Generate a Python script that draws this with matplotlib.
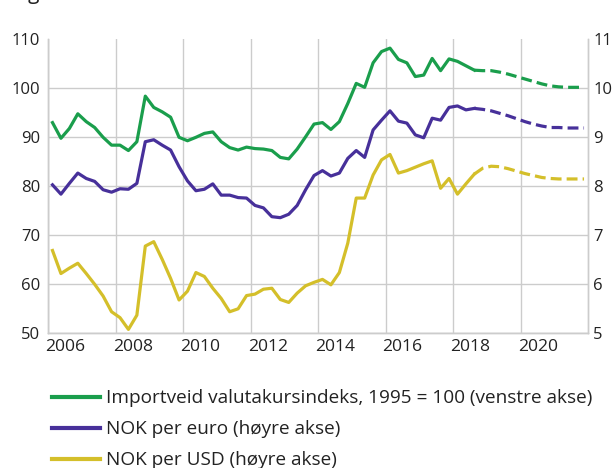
import matplotlib
matplotlib.use('Agg')
from matplotlib import pyplot as plt
from matplotlib.lines import Line2D

plt.rcParams['font.family'] = ['Open Sans', 'DejaVu Sans']
plt.rcParams['font.size'] = 12

# Quarterly data, 2006K1 - 2018K3 (history) and 2018K3 - 2021K4 (forecast)
start_year = 2006
n_hist = 51
n_fcst = 14

# Importveid valutakursindeks (left axis)
import_index = [93.0, 89.8, 91.8, 94.8, 93.2, 92.0, 90.0, 88.4, 88.4, 87.3,
                89.1, 98.4, 96.1, 95.2, 94.1, 90.0, 89.3, 90.0, 90.8, 91.1,
                89.1, 87.9, 87.4, 88.0, 87.7, 87.6, 87.3, 85.9, 85.6, 87.6,
                90.1, 92.7, 93.0, 91.6, 93.2, 96.9, 101.0, 100.2, 105.2, 107.5,
                108.2, 105.9, 105.2, 102.4, 102.7, 106.1, 103.6, 106.0, 105.5, 104.6,
                103.7]
import_index_fcst = [103.7, 103.6, 103.6, 103.3, 102.9, 102.4, 101.9, 101.4,
                     100.9, 100.5, 100.3, 100.2, 100.2, 100.2]

# NOK per euro (right axis)
nok_eur = [8.03, 7.84, 8.06, 8.27, 8.16, 8.10, 7.93, 7.88, 7.95, 7.94,
           8.06, 8.91, 8.95, 8.84, 8.74, 8.40, 8.11, 7.91, 7.94, 8.05,
           7.82, 7.82, 7.77, 7.76, 7.61, 7.56, 7.38, 7.36, 7.43, 7.61,
           7.93, 8.22, 8.32, 8.21, 8.27, 8.57, 8.73, 8.59, 9.15, 9.35,
           9.54, 9.33, 9.29, 9.05, 8.99, 9.39, 9.35, 9.61, 9.64, 9.56,
           9.59]
nok_eur_fcst = [9.59, 9.57, 9.54, 9.49, 9.44, 9.38, 9.32, 9.27,
                9.23, 9.20, 9.20, 9.19, 9.19, 9.19]

# NOK per USD (right axis)
nok_usd = [6.69, 6.22, 6.33, 6.43, 6.22, 6.00, 5.76, 5.44, 5.32, 5.08,
           5.37, 6.78, 6.87, 6.51, 6.12, 5.68, 5.86, 6.24, 6.16, 5.92,
           5.71, 5.44, 5.50, 5.77, 5.80, 5.90, 5.92, 5.69, 5.63, 5.82,
           5.97, 6.04, 6.10, 5.99, 6.24, 6.84, 7.76, 7.76, 8.23, 8.54,
           8.65, 8.27, 8.32, 8.39, 8.46, 8.52, 7.96, 8.16, 7.84, 8.05,
           8.25]
nok_usd_fcst = [8.25, 8.37, 8.41, 8.40, 8.36, 8.31, 8.26, 8.22,
                8.18, 8.16, 8.15, 8.15, 8.15, 8.15]

labels = ['Importveid valutakursindeks, 1995 = 100 (venstre akse)',
          'NOK per euro (høyre akse)',
          'NOK per USD (høyre akse)']
year_ticks = [2006, 2008, 2010, 2012, 2014, 2016, 2018, 2020]

green = '#1a9e4c'
purple = '#47309a'
yellow = '#d4bf2a'
grid_col = '#cccccc'
text_col = '#222222'

# quarter midpoints as decimal years
t_all = [start_year + (i + 0.5) / 4 for i in range(n_hist + n_fcst - 1)]
t_hist = t_all[:n_hist]
t_fcst = t_all[n_hist - 1:]

fig = plt.figure(figsize=(6.15, 4.68), dpi=100)
ax = fig.add_axes([0.0785, 0.2878, 0.878, 0.6282])
ax2 = ax.twinx()

lw = 2.3
dash = (3.4, 1.6)
ax.plot(t_hist, import_index, color=green, lw=lw)
ax.plot(t_fcst, import_index_fcst, color=green, lw=lw, dashes=dash)
ax2.plot(t_hist, nok_eur, color=purple, lw=lw)
ax2.plot(t_fcst, nok_eur_fcst, color=purple, lw=lw, dashes=dash)
ax2.plot(t_hist, nok_usd, color=yellow, lw=lw)
ax2.plot(t_fcst, nok_usd_fcst, color=yellow, lw=lw, dashes=dash)

ax.set_xlim(2006, 2022)
ax.set_ylim(50, 110)
ax2.set_ylim(5, 11)
ax.set_yticks(range(50, 111, 10))
ax2.set_yticks(range(5, 12))
# gridlines on year boundaries, labels centred in the year
ax.set_xticks(year_ticks)
ax.set_xticklabels([])
ax.set_xticks([y + 0.5 for y in year_ticks], minor=True)
ax.set_xticklabels([str(y) for y in year_ticks], minor=True)

ax.grid(True, which='major', color=grid_col, lw=1)
ax.set_axisbelow(True)
for gl in ax.yaxis.get_gridlines()[-1:]:
    gl.set_visible(False)

for a in (ax, ax2):
    a.spines['top'].set_visible(False)
    for s in ('left', 'right', 'bottom'):
        a.spines[s].set_color(grid_col)
        a.spines[s].set_linewidth(1)
    a.tick_params(which='both', length=0, labelsize=12, colors=text_col)
ax.tick_params(axis='y', pad=6)
ax.tick_params(axis='x', which='minor', pad=4, labelsize=12.6)
ax2.tick_params(axis='y', pad=3.5)

handles = [Line2D([], [], color=c, lw=3) for c in (green, purple, yellow)]
fig.legend(handles, labels, loc='upper left', bbox_to_anchor=(0.085, 0.168),
           frameon=False, borderpad=0, borderaxespad=0, handlelength=2.5,
           handletextpad=0.34, labelspacing=0.68, fontsize=13.7,
           labelcolor=text_col)

# cropped title, only its descender shows at the top edge
fig.text(0.02, 1.0 + 1.0 / 468, 'Figur', fontsize=15, va='baseline', color=text_col)

fig.savefig('out.png', dpi=100)
